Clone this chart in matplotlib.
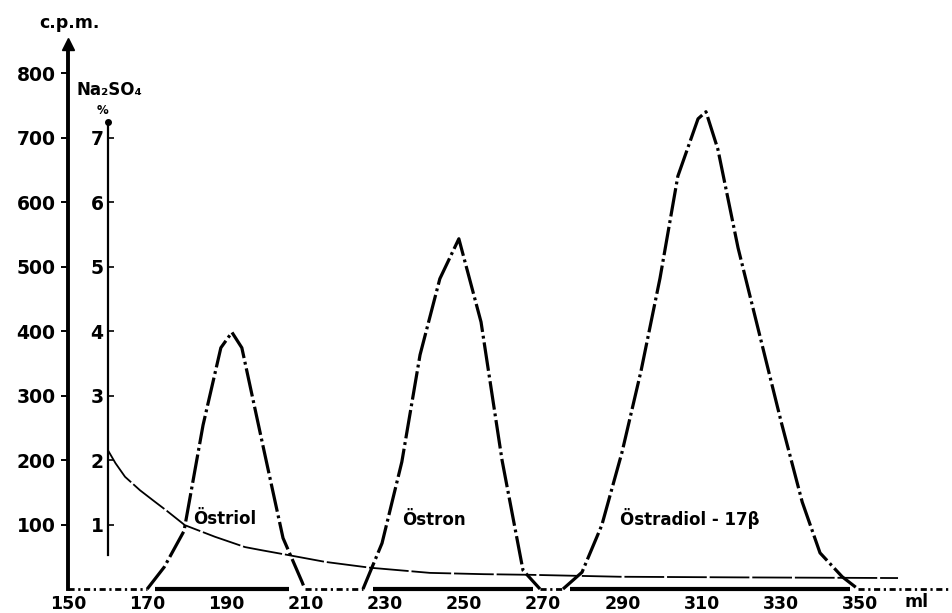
import matplotlib
matplotlib.use("Agg")
import matplotlib.pyplot as plt
import numpy as np

# Elution profile of the oestrogens (c.p.m. per fraction volume in ml)
elution_ml = [150, 170, 174.3, 179.3, 184.1, 188.6, 191.4, 193.9, 199.2, 204.3, 209.1, 209.8,
              224.5, 229.3, 234.3, 238.9, 243.9, 248.7, 254.3, 259.6, 264.9, 269.2,
              275.0, 279.8, 284.8, 289.9, 294.7, 299.5, 304.0, 309.1, 311.1, 314.1, 319.2,
              330.1, 335.4, 339.9, 345.5, 349.5, 373.0]
elution_cpm = [0, 0, 34, 90, 254, 374, 398, 374, 223, 79, 11, 0,
               0, 71, 197, 363, 481, 543, 414, 200, 29, 0,
               0, 26, 99, 212, 338, 482, 640, 729, 740, 682, 529,
               259, 135, 56, 19, 0, 0]

# Na2SO4 gradient (% concentration)
gradient_ml = [160.1, 162.0, 164.4, 168.2, 172.0, 175.0, 179.5, 187.1, 194.7, 199.0,
               205.3, 215.0, 226.3, 241.4, 255.0, 266.7, 289.4, 320.0, 359.6]
gradient_pct = [2.15, 1.95, 1.74, 1.53, 1.35, 1.21, 0.99, 0.81, 0.65, 0.60,
                0.53, 0.42, 0.33, 0.25, 0.23, 0.22, 0.19, 0.18, 0.17]

# Axis ticks
x_ticks = [150, 170, 190, 210, 230, 250, 270, 290, 310, 330, 350]
cpm_ticks = [100, 200, 300, 400, 500, 600, 700, 800]
pct_ticks = [1, 2, 3, 4, 5, 6, 7]

# Peak names and where they are written (ml, c.p.m.)
peak_names = ["Östriol", "Östron", "Östradiol - 17β"]
peak_label_ml = [181.5, 234.3, 289.4]
peak_label_cpm = [108, 107, 110]

# Stretches of the ml axis drawn as a solid rule
axis_rule_ml = [(172.0, 205.8), (227.0, 267.4), (276.8, 347.5)]

FONT = "DejaVu Sans"
plt.rcParams["font.family"] = [FONT]

fig = plt.figure(figsize=(9.52, 6.13), dpi=100)
ax = fig.add_axes([0, 0, 1, 1])
ax.set_xlim(132.83, 373.23)
ax.set_ylim(-37.2, 913.2)
ax.patch.set_alpha(0)

# c.p.m. axis
for s in ("top", "right"):
    ax.spines[s].set_visible(False)
ax.spines["left"].set_position(("data", 150))
ax.spines["left"].set_bounds(0, 845)
ax.spines["left"].set_linewidth(2.8)
ax.set_yticks(cpm_ticks)
ax.set_yticklabels([str(v) for v in cpm_ticks])
ax.tick_params(axis="y", direction="out", length=5, width=1.4, pad=4,
               labelsize=13.5)
ax.plot([150], [845], marker="^", ms=8, color="black", clip_on=False)

# ml axis labels
ax.spines["bottom"].set_position(("data", 0))
ax.spines["bottom"].set_visible(False)
ax.set_xticks(x_ticks)
ax.set_xticklabels([str(v) for v in x_ticks])
ax.tick_params(axis="x", length=0, pad=4, labelsize=12.5)
for lab in ax.get_xticklabels() + ax.get_yticklabels():
    lab.set_fontweight("bold")
ax.hlines([0] * len(axis_rule_ml), [a for a, b in axis_rule_ml],
          [b for a, b in axis_rule_ml], color="black", lw=3.0)
ax.text(364.4, -20, "ml", ha="center", va="center", fontsize=12.5,
        fontweight="bold")

# Na2SO4 axis
sec = ax.secondary_yaxis(160, functions=(lambda c: c / 100.0, lambda p: p * 100.0),
                         transform=ax.transData)
sec.set_alignment("left")
sec.set_yticks(pct_ticks)
sec.set_yticklabels([str(v) for v in pct_ticks])
sec.tick_params(axis="y", direction="in", length=4, width=1.2, pad=3,
                labelsize=13.5)
for lab in sec.get_yticklabels():
    lab.set_fontweight("bold")
sec.spines["left"].set_bounds(0.53, 7.24)
sec.spines["left"].set_linewidth(1.6)
sec.spines["right"].set_visible(False)
ax.plot([160], [724], marker="o", ms=4, color="black")

# Axis titles
ax.text(150.3, 877, "c.p.m.", ha="center", va="center", fontsize=12.5,
        fontweight="bold")
ax.text(160.4, 774, "Na₂SO₄", ha="center", va="center", fontsize=12,
        fontweight="bold")
ax.text(158.8, 742, "%", ha="center", va="center", fontsize=8.5,
        fontweight="bold")

# Gradient curve
ax.plot(gradient_ml, [p * 100 for p in gradient_pct], color="black", lw=1.3,
        linestyle=(0, (22, 1.6)))

# Elution curve: peaks in long dash-dot, baseline stretches in short dash-dot
x = np.array(elution_ml)
y = np.array(elution_cpm, dtype=float)
peak_style = (0, (9, 1.2, 0.9, 1.2))
base_style = (0, (2.2, 1.3, 0.8, 1.3))
i = 0
n = len(x)
while i < n - 1:
    flat = y[i] == 0 and y[i + 1] == 0
    j = i + 1
    while j < n - 1 and ((y[j] == 0 and y[j + 1] == 0) == flat):
        j += 1
    ax.plot(x[i:j + 1], y[i:j + 1], color="black",
            lw=2.0 if flat else 2.3,
            linestyle=base_style if flat else peak_style,
            solid_capstyle="butt", dash_capstyle="butt")
    i = j

# Peak names
for name, px, py in zip(peak_names, peak_label_ml, peak_label_cpm):
    ax.text(px, py, name, ha="left", va="center", fontsize=12,
            fontweight="bold")

fig.savefig("out.png", dpi=100)
